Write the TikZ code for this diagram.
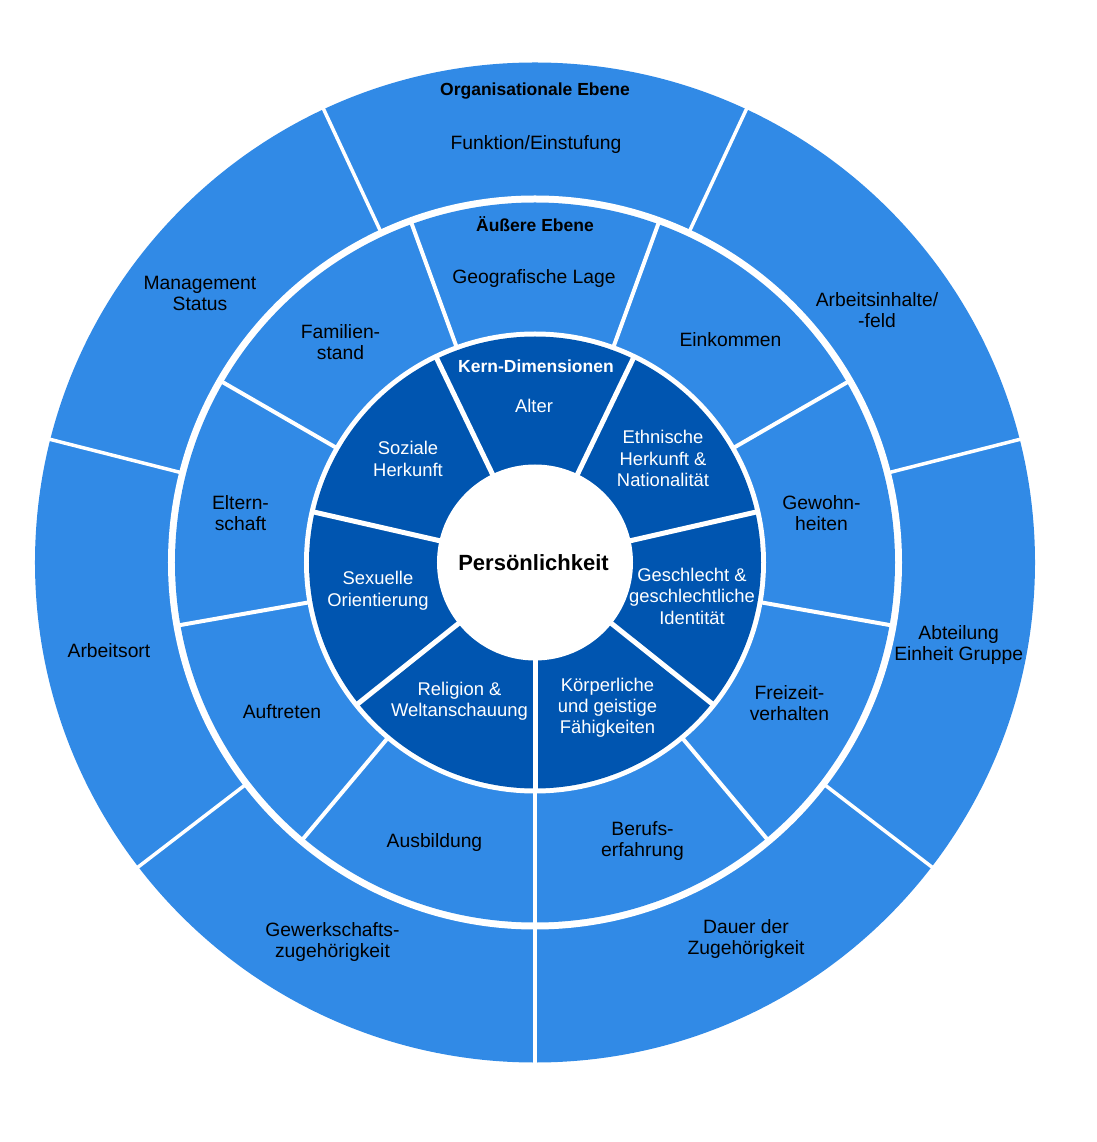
\documentclass[tikz,border=0pt]{standalone}
\usepackage{fontspec}
\setmainfont{Liberation Sans}
\definecolor{lightb}{HTML}{318AE6}
\definecolor{darkb}{HTML}{0055B0}
\tikzset{
  lbl/.style={font=\fontsize{19.3}{21}\selectfont, align=center, anchor=base, inner sep=0pt, text=black},
  wlbl/.style={lbl, font=\fontsize{18.4}{21.3}\selectfont, text=white},
  hdr/.style={font=\bfseries\fontsize{17.5}{21}\selectfont, align=center, anchor=base, inner sep=0pt, text=black},
  whdr/.style={hdr, text=white},
  outsep/.style={white, line width=3.5pt},
  midsep/.style={white, line width=4pt},
  coresep/.style={white, line width=5pt},
}
\begin{document}
\begin{tikzpicture}[x=1pt,y=1pt]
\useasboundingbox (-535,-579.5) rectangle (561,562.5);
% rings
\fill[lightb] (0,0) circle (500);
\fill[white] (0,0) circle (367);
\fill[lightb] (0,0) circle (360);
\fill[white] (0,0) circle (231);
\fill[darkb] (0,0) circle (226);
% separators
\foreach \a in {-90,-37.5,14.25,65,115,165.75,217.5}
  \draw[outsep] (\a:363) -- (\a:505);
\foreach \a in {-90,-50,-10,30,70,110,150,190,230}
  \draw[midsep] (\a:228) -- (\a:363);
\foreach \a in {-90,-38.571,12.857,64.286,115.714,167.143,218.571}
  \draw[coresep] (\a:95) -- (\a:228);
\fill[white] (0,0) circle (98);
% outer ring
\node[hdr] (org) at (0,466.5) {Organisationale Ebene};
\node[lbl] (funktion) at (1,412.5) {Funktion/Einstufung};
\node[lbl] (management) at (-335,251.5) {Management\\Status};
\node[lbl] (arbeitsinhalte) at (342,234.8) {Arbeitsinhalte/\\-feld};
\node[lbl] (arbeitsort) at (-426,-94.5) {Arbeitsort};
\node[lbl] (abteilung) at (423.7,-98.5) {Abteilung\\Einheit Gruppe};
\node[lbl] (gewerk) at (-202.5,-395.2) {Gewerkschafts-\\zugehörigkeit};
\node[lbl] (dauer) at (211,-391.8) {Dauer der\\Zugehörigkeit};
% middle ring
\node[hdr] (aeussere) at (0,330.5) {Äußere Ebene};
\node[lbl] (geo) at (-1,278.5) {Geografische Lage};
\node[lbl] (familien) at (-194.5,202.8) {Familien-\\stand};
\node[lbl] (einkommen) at (195.5,215.5) {Einkommen};
\node[lbl] (eltern) at (-294.5,32.2) {Eltern-\\schaft};
\node[lbl] (gewohn) at (286.5,32.2) {Gewohn-\\heiten};
\node[lbl] (auftreten) at (-253,-155.5) {Auftreten};
\node[lbl] (freizeit) at (254.5,-157.8) {Freizeit-\\verhalten};
\node[lbl] (ausbildung) at (-100.5,-284.5) {Ausbildung};
\node[lbl] (berufs) at (107.5,-293.5) {Berufs-\\erfahrung};
% core
\node[whdr] (kern) at (1,189.5) {Kern-Dimensionen};
\node[wlbl] (alter) at (-1,149.5) {Alter};
\node[wlbl] (soziale) at (-127,86.2) {Soziale\\Herkunft};
\node[wlbl] (ethn) at (128,75.9) {Ethnische\\Herkunft \&\\Nationalität};
\node[wlbl] (sex) at (-157,-43.8) {Sexuelle\\Orientierung};
\node[wlbl] (geschl) at (157,-61.8) {Geschlecht \&\\geschlechtliche\\Identität};
\node[wlbl] (religion) at (-75.5,-153.8) {Religion \&\\Weltanschauung};
\node[wlbl] (koerper) at (72.5,-171.1) {Körperliche\\und geistige\\Fähigkeiten};
% centre
\node[font=\bfseries\fontsize{22}{26}\selectfont, anchor=base, inner sep=0pt] (pers) at (-1.5,-8.5) {Persönlichkeit};
\end{tikzpicture}
\end{document}
